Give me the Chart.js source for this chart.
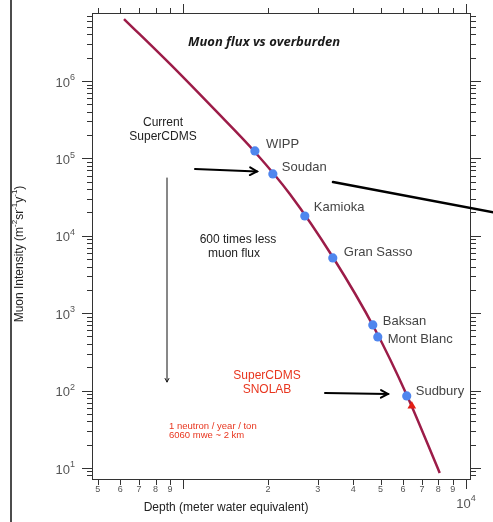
<!DOCTYPE html>
<html>
<head>
<meta charset="utf-8">
<script src="https://cdn.jsdelivr.net/npm/chart.js@4/dist/chart.umd.min.js"></script>
<style>
  html, body { margin: 0; padding: 0; background: #fff; }
</style>
</head>
<body>
<canvas id="muonChart" width="493" height="522"></canvas>
<script>
// values (depth in m.w.e., intensity in m^-2 sr^-1 y^-1)
const sites = ['WIPP', 'Soudan', 'Kamioka', 'Gran Sasso', 'Baksan', 'Mont Blanc', 'Sudbury'];
const siteDepth = [1797, 2080, 2698, 3388, 4693, 4887, 6187];
const siteFlux = [1.25e5, 6.29e4, 1.80e4, 5170, 704, 493, 85.2];
const curveDepth = [619, 900, 1298, 1797, 2388, 3388, 4770, 6187, 8093];
const curveFlux = [6.32e6, 1.66e6, 4.22e5, 1.21e5, 3.47e4, 5320, 625, 87.8, 8.62];
const snolabDepth = [6446];
const snolabFlux = [63.2];
const xTickValues = [500, 600, 700, 800, 900, 2000, 3000, 4000, 5000, 6000, 7000, 8000, 9000];
const xTickLabels = ['5', '6', '7', '8', '9', '2', '3', '4', '5', '6', '7', '8', '9'];
const yTickPowers = [1, 2, 3, 4, 5, 6];

// label placement next to each site dot (px)
const labelOffsets = [[11, -6], [9, -7], [9, -9], [11, -6], [10, -4], [10, 2], [9, -5]];

function line(ctx, x1, y1, x2, y2) {
  ctx.beginPath();
  ctx.moveTo(x1, y1);
  ctx.lineTo(x2, y2);
  ctx.stroke();
}

function arrow(ctx, x1, y1, x2, y2, width, head) {
  const ang = Math.atan2(y2 - y1, x2 - x1);
  ctx.lineWidth = width;
  ctx.lineCap = 'round';
  line(ctx, x1, y1, x2, y2);
  ctx.beginPath();
  ctx.moveTo(x2 - head * Math.cos(ang - 0.5), y2 - head * Math.sin(ang - 0.5));
  ctx.lineTo(x2, y2);
  ctx.lineTo(x2 - head * Math.cos(ang + 0.5), y2 - head * Math.sin(ang + 0.5));
  ctx.stroke();
}

// draws "10" with a superscript, right edge at xr
function powLabel(ctx, exp, xr, yc, size) {
  ctx.textBaseline = 'middle';
  ctx.textAlign = 'left';
  ctx.font = Math.round(size * 0.7) + 'px "Liberation Sans", Arial, sans-serif';
  const we = ctx.measureText(exp).width;
  ctx.font = size + 'px "Liberation Sans", Arial, sans-serif';
  const wb = ctx.measureText('10').width;
  ctx.fillText('10', xr - we - wb, yc);
  ctx.font = Math.round(size * 0.7) + 'px "Liberation Sans", Arial, sans-serif';
  ctx.fillText(exp, xr - we, yc - size * 0.4);
}

const decorations = {
  id: 'decorations',
  beforeDatasetsDraw(chart) {
    const { ctx, chartArea: a, scales: { x, y } } = chart;
    ctx.save();
    ctx.strokeStyle = '#111';
    ctx.lineWidth = 1.5;
    line(ctx, 11, 0, 11, 522);

    ctx.strokeStyle = '#333';
    ctx.lineWidth = 1;
    ctx.strokeRect(a.left + 0.5, a.top + 0.5, a.right - a.left - 1, a.bottom - a.top);

    // log ticks, all four sides
    for (let e = 2; e <= 4; e++) {
      for (let m = 1; m <= 9; m++) {
        const v = m * Math.pow(10, e);
        if (v < x.min || v > x.max) continue;
        const px = Math.round(x.getPixelForValue(v)) + 0.5;
        const big = m === 1;
        line(ctx, px, a.bottom, px, a.bottom + (big ? 10 : 6));
        line(ctx, px, a.top, px, a.top - (big ? 9 : 5));
      }
    }
    for (let e = 0; e <= 6; e++) {
      for (let m = 1; m <= 9; m++) {
        const v = m * Math.pow(10, e);
        if (v < y.min || v > y.max) continue;
        const py = Math.round(y.getPixelForValue(v)) + 0.5;
        const big = m === 1;
        line(ctx, a.left, py, a.left - (big ? 10 : 5), py);
        line(ctx, a.right, py, a.right + (big ? 10 : 5), py);
      }
    }

    // tick labels
    ctx.fillStyle = '#555';
    ctx.font = '9px "Liberation Sans", Arial, sans-serif';
    ctx.textAlign = 'center';
    ctx.textBaseline = 'middle';
    xTickValues.forEach((v, i) => {
      ctx.fillText(xTickLabels[i], x.getPixelForValue(v), a.bottom + 11);
    });
    powLabel(ctx, '4', x.getPixelForValue(10000) + 10, a.bottom + 25, 13);
    yTickPowers.forEach(p => {
      powLabel(ctx, String(p), a.left - 17, y.getPixelForValue(Math.pow(10, p)) + 2, 13);
    });

    // axis titles
    ctx.fillStyle = '#222';
    ctx.font = '12px "Liberation Sans", Arial, sans-serif';
    ctx.textAlign = 'center';
    ctx.fillText('Depth (meter water equivalent)', 226, 508);

    ctx.save();
    ctx.translate(20, 254);
    ctx.rotate(-Math.PI / 2);
    const parts = [['Muon Intensity (m', 0], ['-2', 1], ['sr', 0], ['-1', 1], ['y', 0], ['-1', 1], [')', 0]];
    const fnt = s => (s ? '8px' : '12px') + ' "Liberation Sans", Arial, sans-serif';
    let total = 0;
    parts.forEach(([t, s]) => { ctx.font = fnt(s); total += ctx.measureText(t).width; });
    let cx = -total / 2;
    ctx.textAlign = 'left';
    parts.forEach(([t, s]) => {
      ctx.font = fnt(s);
      ctx.fillText(t, cx, s ? -5 : 0);
      cx += ctx.measureText(t).width;
    });
    ctx.restore();

    // title
    ctx.fillStyle = '#1a1a1a';
    ctx.font = 'italic bold 13px "Open Sans", sans-serif';
    ctx.textAlign = 'center';
    ctx.fillText('Muon flux vs overburden', 264, 42, 160);

    // notes
    ctx.fillStyle = '#222';
    ctx.font = '12px "Liberation Sans", Arial, sans-serif';
    ctx.fillText('Current', 163, 123);
    ctx.fillText('SuperCDMS', 163, 137);
    ctx.fillText('600 times less', 238, 240);
    ctx.fillText('muon flux', 234, 254);

    ctx.fillStyle = '#e8361f';
    ctx.fillText('SuperCDMS', 267, 376);
    ctx.fillText('SNOLAB', 267, 390);
    ctx.font = '9.5px "Liberation Sans", Arial, sans-serif';
    ctx.textAlign = 'left';
    ctx.fillText('1 neutron / year / ton', 169, 426);
    ctx.fillText('6060 mwe ~ 2 km', 169, 435);

    // vertical thin arrow
    ctx.strokeStyle = '#111';
    arrow(ctx, 167, 178, 167, 382, 1, 4);
    ctx.restore();
  },
  afterDatasetsDraw(chart) {
    const { ctx, scales: { x, y } } = chart;
    ctx.save();
    ctx.fillStyle = '#444';
    ctx.font = '13px "Liberation Sans", Arial, sans-serif';
    ctx.textAlign = 'left';
    ctx.textBaseline = 'middle';
    sites.forEach((s, i) => {
      const px = x.getPixelForValue(siteDepth[i]);
      const py = y.getPixelForValue(siteFlux[i]);
      ctx.fillText(s, px + labelOffsets[i][0], py + labelOffsets[i][1]);
    });

    ctx.strokeStyle = '#000';
    arrow(ctx, 195, 169, 257, 171.5, 2, 8);
    arrow(ctx, 325, 393, 388, 394, 2, 8);
    ctx.lineWidth = 2.5;
    line(ctx, 333, 182, 500, 213.5);
    ctx.restore();
  }
};

new Chart(document.getElementById('muonChart'), {
  type: 'scatter',
  data: {
    datasets: [
      {
        label: 'curve',
        data: curveDepth.map((d, i) => ({ x: d, y: curveFlux[i] })),
        showLine: true,
        borderColor: '#9c1c48',
        borderWidth: 2.5,
        pointRadius: 0,
        cubicInterpolationMode: 'monotone',
        order: 3
      },
      {
        label: 'sites',
        data: siteDepth.map((d, i) => ({ x: d, y: siteFlux[i] })),
        backgroundColor: '#4f86ee',
        borderWidth: 0,
        pointRadius: 4.6,
        order: 2
      },
      {
        label: 'SNOLAB',
        data: snolabDepth.map((d, i) => ({ x: d, y: snolabFlux[i] })),
        pointStyle: 'triangle',
        backgroundColor: '#e21e14',
        borderWidth: 0,
        pointRadius: 5,
        order: 1
      }
    ]
  },
  options: {
    responsive: false,
    devicePixelRatio: 1,
    animation: false,
    layout: { padding: { left: 92, top: 13, right: 22, bottom: 43 } },
    plugins: { legend: { display: false }, tooltip: { enabled: false } },
    scales: {
      x: { type: 'logarithmic', min: 477, max: 10440, display: false },
      y: { type: 'logarithmic', min: 7.2, max: 7.56e6, display: false }
    }
  },
  plugins: [decorations]
});
</script>
</body>
</html>
